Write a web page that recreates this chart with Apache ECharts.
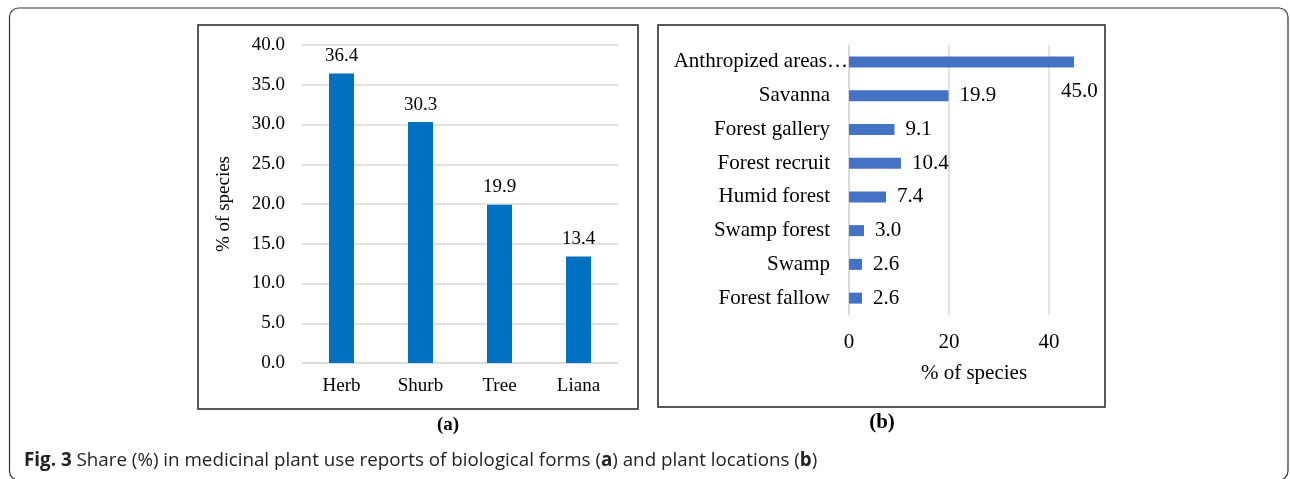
<!DOCTYPE html>
<html><head><meta charset="utf-8">
<script src="https://cdn.jsdelivr.net/npm/echarts@6/dist/echarts.min.js"></script>
<style>html,body{margin:0;padding:0;background:#fff}#c{width:1290px;height:479px}</style>
</head><body><div id="c"></div>
<script>
const formCategories = ['Herb', 'Shurb', 'Tree', 'Liana'];
const formValues = [36.4, 30.3, 19.9, 13.4];
const formTicks = ['0.0','5.0','10.0','15.0','20.0','25.0','30.0','35.0','40.0'];
const locationCategories = ['Anthropized areas…', 'Savanna', 'Forest gallery', 'Forest recruit', 'Humid forest', 'Swamp forest', 'Swamp', 'Forest fallow'];
const locationValues = [45.0, 19.9, 9.1, 10.4, 7.4, 3.0, 2.6, 2.6];
const locationTicks = ['0', '20', '40'];

const serif = 'Liberation Serif';
const chart = echarts.init(document.getElementById('c'), null, {renderer: 'canvas'});
chart.setOption({
  animation: false,
  textStyle: {fontFamily: serif},
  graphic: [
    {type: 'rect', shape: {x: 9.5, y: 8, width: 1278.5, height: 472, r: 9}, style: {fill: 'none', stroke: '#333', lineWidth: 1.2}, silent: true},
    {type: 'rect', shape: {x: 198, y: 25, width: 440, height: 384}, style: {fill: 'none', stroke: '#222', lineWidth: 1.5}, silent: true},
    {type: 'rect', shape: {x: 658, y: 25, width: 447, height: 382}, style: {fill: 'none', stroke: '#222', lineWidth: 1.5}, silent: true},
    {type: 'text', x: 448, y: 425, style: {text: '(a)', font: 'bold 19px "Liberation Serif"', fill: '#000', align: 'center', verticalAlign: 'middle'}},
    {type: 'text', x: 882, y: 423, style: {text: '(b)', font: 'bold 21px "Liberation Serif"', fill: '#000', align: 'center', verticalAlign: 'middle'}},
    {type: 'text', x: 24, y: 461, style: {
      text: '{b|Fig. 3} Share (%) in medicinal plant use reports of biological forms ({b|a}) and plant locations ({b|b})',
      fontFamily: 'Open Sans', fontSize: 18.8, fill: '#222', verticalAlign: 'middle',
      rich: {b: {fontFamily: 'Open Sans', fontSize: 18.8, fontWeight: 'bold', fill: '#222'}}
    }}
  ],
  grid: [
    {left: 302, top: 45, width: 316, height: 318},
    {left: 849, top: 45, width: 250, height: 270}
  ],
  xAxis: [
    {type: 'category', gridIndex: 0, data: formCategories,
      axisLine: {show: true, lineStyle: {color: '#d9d9d9', width: 1.5}}, axisTick: {show: false},
      axisLabel: {color: '#000', fontSize: 19, fontFamily: serif, margin: 14}},
    {type: 'value', gridIndex: 1, min: 0, max: 50, interval: 20,
      axisLine: {show: false}, axisTick: {show: false},
      axisLabel: {color: '#000', fontSize: 21, fontFamily: serif, margin: 17, showMaxLabel: false,
        formatter: v => locationTicks.includes(String(v)) ? String(v) : ''},
      splitLine: {show: true, showMaxLine: false, lineStyle: {color: '#d9d9d9', width: 1.5}},
      name: '% of species', nameLocation: 'middle', nameGap: 48,
      nameTextStyle: {color: '#000', fontSize: 21, fontFamily: serif}}
  ],
  yAxis: [
    {type: 'value', gridIndex: 0, min: 0, max: 40, interval: 5,
      axisLine: {show: false}, axisTick: {show: false},
      axisLabel: {color: '#000', fontSize: 19, fontFamily: serif, margin: 17,
        formatter: v => formTicks[Math.round(v / 5)]},
      splitLine: {show: true, lineStyle: {color: '#d9d9d9', width: 1.5}},
      name: '% of species', nameLocation: 'middle', nameGap: 68,
      nameTextStyle: {color: '#000', fontSize: 19, fontFamily: serif}},
    {type: 'category', gridIndex: 1, data: locationCategories, inverse: true,
      axisLine: {show: true, lineStyle: {color: '#d9d9d9', width: 1.5}}, axisTick: {show: false},
      axisLabel: {color: '#000', fontSize: 21, fontFamily: serif, margin: 1,
        formatter: (v, i) => i === 0 ? '{a|' + v + '}' : '{n|' + v + '}',
        rich: {
          a: {fontSize: 21, fontFamily: serif, color: '#000'},
          n: {fontSize: 21, fontFamily: serif, color: '#000', padding: [0, 18, 0, 0]}
        }}}
  ],
  series: [
    {type: 'bar', xAxisIndex: 0, yAxisIndex: 0, data: formValues, barWidth: 25,
      itemStyle: {color: '#0070C0'},
      label: {show: true, position: 'top', distance: 8, color: '#000', fontSize: 19, fontFamily: serif,
        formatter: p => p.value.toFixed(1)}},
    {type: 'bar', xAxisIndex: 1, yAxisIndex: 1, barWidth: 11,
      data: locationValues.map((v, i) => i === 0 ? {value: v, label: {offset: [-24, 30]}} : v),
      itemStyle: {color: '#4472C4'},
      label: {show: true, position: 'right', distance: 11, color: '#000', fontSize: 21, fontFamily: serif,
        formatter: p => p.value.toFixed(1)}}
  ]
});
</script></body></html>
